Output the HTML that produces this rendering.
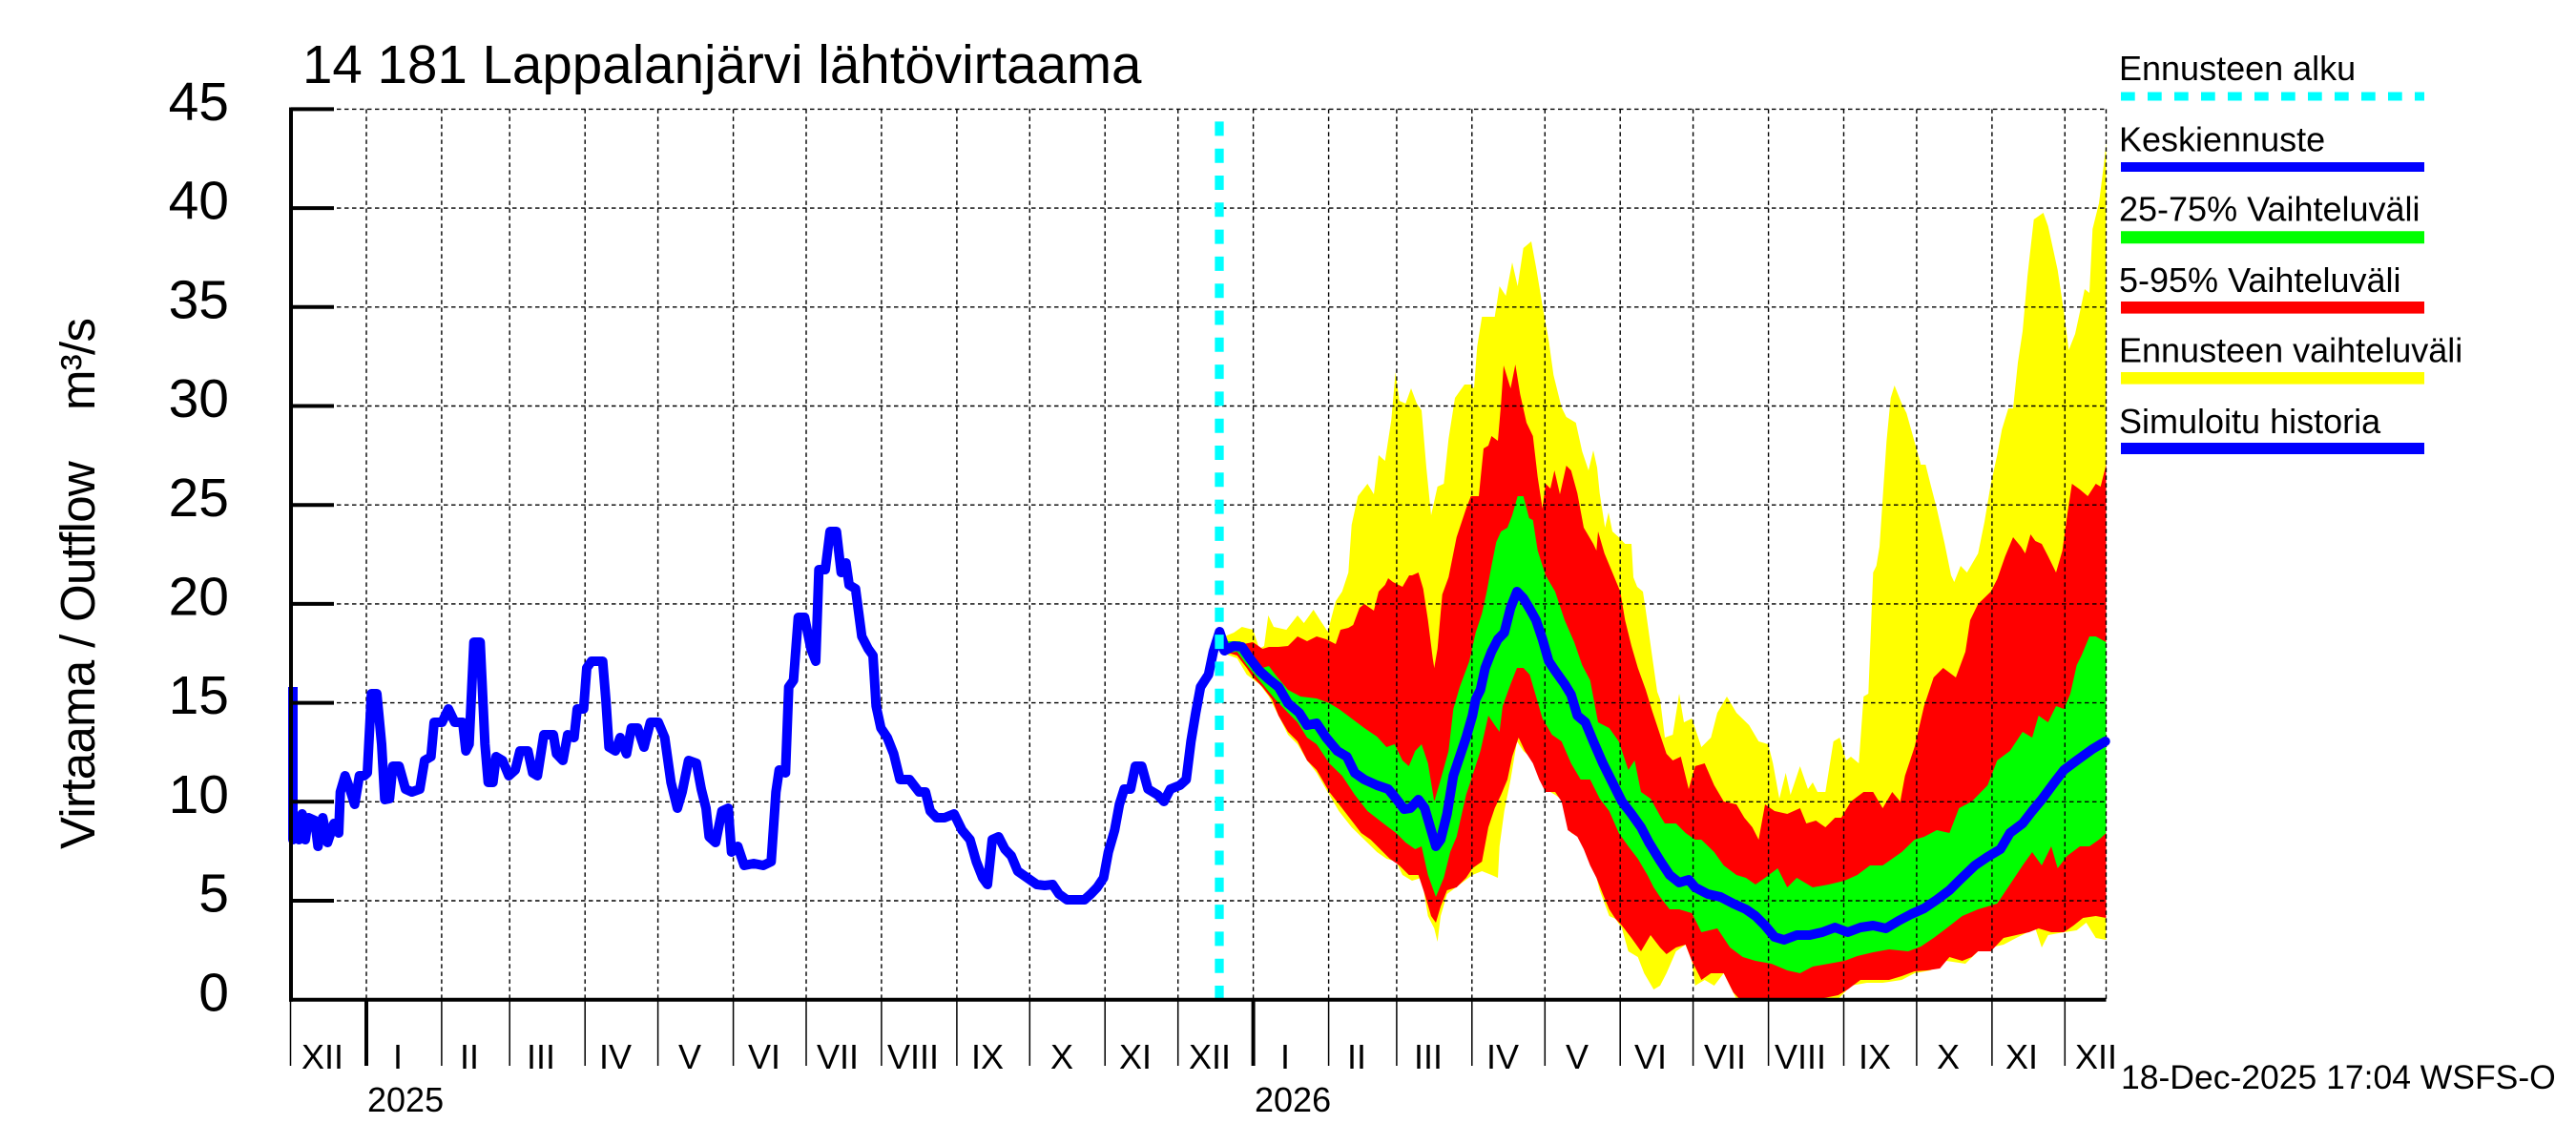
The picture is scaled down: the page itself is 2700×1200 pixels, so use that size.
<!DOCTYPE html>
<html><head><meta charset="utf-8"><style>
html,body{margin:0;padding:0;background:#fff;}
svg{display:block;}
text{font-family:"Liberation Sans",Arial,sans-serif;fill:#000;}
</style></head><body>
<svg width="2700" height="1200" viewBox="0 0 2700 1200" xmlns="http://www.w3.org/2000/svg">
<rect width="2700" height="1200" fill="#fff"/>

<!-- Yellow: forecast range -->
<polygon fill="#ffff00" points="1278,676 1283.3,667 1293.3,663 1301.7,657 1313.3,660 1320,680 1325,677 1329.3,645 1335,657 1348.3,660 1360,645 1366.7,653 1376.7,639 1385,652 1391.7,662 1400,630 1406.7,620 1413.3,600 1416.7,550 1423.3,520 1433.3,507 1440,518 1445,477 1451.7,483 1458.3,440 1462.7,390 1466.7,420 1473.3,423 1479,407 1485,423 1490,430 1495,490 1500,540 1506.7,510 1513.3,507 1518.3,460 1525,417 1535,403 1541.7,403 1545,407 1548.3,363 1553.3,332 1566.7,332 1571.7,300 1578.3,310 1585,275 1590.7,300 1596.7,260 1605,253 1610,280 1616.7,320 1623.3,357 1628.3,393 1636.7,427 1641.7,437 1651.7,443 1658.3,473 1665,493 1670,472 1674,490 1676.7,517 1682.3,553 1686,537 1690,557 1696.7,563 1703.3,570 1710,570 1712,605 1716,615 1722,620 1725,640 1732,690 1737,725 1740,733 1745,773 1753.3,770 1760,727 1765,757 1773.3,753 1783.3,783 1793.3,773 1800,747 1810,730 1820,747 1833.3,760 1843.3,777 1853.3,780 1858.3,800 1865,837 1871.7,810 1876.7,833 1886.7,803 1895,827 1900,820 1905,830 1913.3,830 1921.7,777 1928.3,773 1935,797 1940,793 1948.3,800 1953.3,730 1958.3,727 1963.3,600 1966.7,593 1970,573 1973.3,523 1977.3,463 1981.7,417 1985.7,404 1993.3,423 1998.3,433 2006.7,463 2013.3,487 2018.3,487 2023.3,507 2030,533 2038.3,570 2045,603 2048.3,610 2055,593 2061.7,600 2073.3,580 2080,547 2086.7,507 2093.3,477 2098.3,450 2105,428 2110,428 2115,380 2120,347 2125,290 2131.7,230 2141.7,223 2146.7,237 2156.7,283 2163.3,327 2168.3,367 2175,350 2180,327 2185,303 2190,307 2193.3,240 2200,213 2205,173 2207.5,150
2207.5,985 2196.7,983 2186.7,967 2176.7,975 2163.3,977 2146.7,980 2140,993 2133.3,973 2113.3,983 2100,990 2086.7,993 2073.3,997 2060,1010 2040,1007 2023.3,1017 2006.7,1020 1993.3,1027 1973.3,1030 1956.7,1030 1940,1033 1926.7,1047 1820,1047 1806.7,1020 1796.7,1033 1786.7,1027 1776.7,1033 1773.3,1007 1766.7,990 1756.7,997 1746.7,1020 1740,1033 1733.3,1037 1723.3,1020 1716.7,1003 1706.7,997 1700,973 1693.3,963 1686.7,960 1676.7,933 1666.7,893 1656.7,877 1646.7,873 1640,840 1630,833 1620,827 1613.3,813 1603.3,793 1596.7,787 1590,777 1583.3,817 1576.7,850 1571.7,887 1570,920 1563.3,917 1553.3,913 1543.3,917 1530,927 1516.7,937 1510,960 1506.7,987 1503.3,973 1496.7,960 1490,920 1480,923 1470,917 1463.3,903 1453.3,900 1443.3,893 1430,880 1416.7,867 1403.3,850 1393.3,833 1380,810 1370,797 1360,780 1350,770 1340,750 1330,730 1320,717 1306.7,707 1296.7,690 1283.3,685"/>

<!-- Red: 5-95% -->
<polygon fill="#ff0000" points="1278,676 1283.3,672 1293.3,672 1303.3,675 1313.3,673 1323.3,680 1330,678 1340,678 1350,677 1360,667 1370,672 1380,667 1390,670 1400,675 1405,660 1413.3,658 1418.3,655 1425,637 1430,633 1440,640 1445,620 1451.7,613 1455,606 1460,610 1470,615 1477,603 1480,603 1486.7,600 1491.7,617 1496.7,650 1501.7,690 1503.3,700 1506.7,680 1511.7,623 1518.3,605 1526.7,563 1536.7,533 1541.7,520 1550,520 1555,470 1560,467 1563.3,457 1570,462 1573.3,423 1576,383 1583.3,407 1588.3,382 1593.3,413 1600,443 1606.7,457 1611.7,500 1616.7,533 1620,507 1625,512 1629.3,493 1635,518 1641.7,488 1646.7,493 1653.3,517 1660,553 1670,570 1673.3,577 1675,557 1681.7,580 1690,600 1698.3,620 1703.3,650 1710,677 1716.7,700 1725,723 1731.7,745 1740,770 1746.7,790 1753.3,797 1761.7,793 1770,827 1776.7,803 1786.7,800 1796.7,823 1806.7,840 1820,843 1828.3,857 1836.7,867 1843.3,880 1850,843 1860,850 1873.3,853 1886.7,847 1893.3,863 1903.3,860 1913.3,867 1923.3,857 1930,857 1940,840 1953.3,830 1963.3,830 1973.3,847 1983.3,830 1991.7,840 1996.7,813 2006.7,783 2016.7,740 2026.7,710 2036.7,700 2050,710 2060,683 2065,650 2073.3,633 2086.7,620 2093.3,607 2101.7,583 2110,563 2118.3,573 2122.7,580 2128.3,560 2133.3,567 2140,570 2146.7,583 2155,600 2161.7,577 2166.7,540 2171.7,507 2180,513 2188.3,520 2196.7,507 2201.7,510 2205,497 2207.5,487
2207.5,962 2196.7,960 2183.3,962 2173.3,970 2163.3,977 2150,977 2136.7,973 2126.7,977 2113.3,980 2100,983 2086.7,997 2073.3,997 2066.7,1003 2056.7,1007 2043.3,1003 2033.3,1015 2020,1017 2006.7,1018 1993.3,1023 1980,1027 1966.7,1027 1950,1027 1936.7,1037 1926.7,1043 1906.7,1047 1823.3,1047 1816.7,1040 1806.7,1020 1793.3,1020 1783.3,1027 1773.3,1007 1766.7,990 1756.7,993 1746.7,1000 1740,993 1730,980 1720,997 1710,983 1700,970 1693.3,963 1686.7,953 1680,937 1673.3,920 1666.7,907 1660,890 1653.3,877 1643.3,870 1636.7,840 1630,830 1620,830 1613.3,817 1606.7,800 1598.3,787 1591.7,773 1585,793 1580,817 1573.3,833 1566.7,847 1560,867 1553.3,903 1543.3,910 1536.7,920 1526.7,930 1516.7,933 1510,950 1505,967 1500,960 1493.3,937 1486.7,917 1476.7,917 1466.7,907 1456.7,900 1446.7,890 1436.7,880 1426.7,873 1416.7,860 1406.7,847 1393.3,830 1380,807 1370,797 1360,777 1350,767 1340,750 1333.3,733 1323.3,720 1313.3,710 1306.7,700 1296.7,687 1283.3,683"/>

<!-- Green: 25-75% -->
<polygon fill="#00ff00" points="1278,676 1283.3,672 1300,672 1313.3,690 1323.3,700 1330,698 1336.7,707 1350,723 1363.3,730 1380,732 1393.3,737 1403.3,743 1416.7,753 1430,763 1443.3,772 1453.3,783 1461.7,780 1470,797 1476.7,803 1483.3,787 1490,780 1496.7,800 1503.3,840 1510,817 1518.3,787 1523.3,743 1530,720 1540,693 1546.7,663 1553.3,643 1558.3,620 1563.3,593 1568.3,568 1573.3,557 1580,553 1585,540 1590.7,520 1596.7,520 1602.7,543 1606.7,545 1611.7,577 1620,603 1630,620 1640,650 1650,673 1658.3,697 1666.7,713 1675,757 1686.7,763 1696.7,777 1706.7,807 1713.3,797 1720,830 1730,837 1740,855 1745,863 1756.7,863 1766.7,873 1776.7,880 1783.3,880 1796.7,893 1806.7,907 1820,917 1830,920 1840,927 1850,920 1863.3,910 1873.3,930 1883.3,920 1900,930 1916.7,927 1933.3,923 1946.7,917 1960,907 1973.3,907 1983.3,900 1993.3,893 2006.7,880 2016.7,877 2030,870 2043.3,873 2053.3,847 2066.7,840 2083.3,823 2093.3,797 2106.7,787 2120,767 2130,773 2136.7,750 2146.7,757 2155,740 2163.3,743 2170,727 2176.7,697 2181.7,687 2190,667 2196.7,667 2207.5,673
2207.5,873 2200,880 2190,887 2180,887 2166.7,897 2156.7,910 2150,887 2140,907 2130,893 2120,907 2106.7,927 2093.3,947 2073.3,953 2056.7,960 2040,973 2026.7,983 2013.3,992 2000,997 1980,995 1963.3,998 1946.7,1002 1933.3,1007 1916.7,1010 1900,1013 1886.7,1020 1873.3,1017 1856.7,1010 1840,1007 1826.7,1003 1813.3,993 1800,973 1783.3,977 1773.3,957 1760,953 1750,953 1740,940 1733.3,930 1726.7,917 1716.7,900 1706.7,887 1696.7,873 1686.7,850 1676.7,837 1666.7,817 1656.7,817 1646.7,800 1636.7,777 1626.7,770 1616.7,753 1610,730 1603.3,707 1596.7,700 1590,700 1583.3,717 1575,740 1571.7,767 1566.7,760 1560,750 1551.7,787 1543.3,813 1536.7,833 1526.7,877 1520,893 1513.3,920 1505,940 1496.7,917 1490,887 1483.3,890 1473.3,883 1463.3,873 1450,863 1433.3,850 1420,833 1406.7,813 1393.3,800 1380,780 1370,773 1360,757 1350,747 1336.7,733 1320,713 1306.7,697 1296.7,683 1283.3,685"/>

<!-- Grid -->
<g stroke="#000" stroke-width="1.4" stroke-dasharray="4.5 3.5" fill="none">
<path d="M305 944H2207.5M305 840.3H2207.5M305 736.6H2207.5M305 632.9H2207.5M305 529.2H2207.5M305 425.5H2207.5M305 321.8H2207.5M305 218.1H2207.5M305 114.4H2207.5"/>
<path d="M384 114.4V1047M462.9 114.4V1047M534.2 114.4V1047M613.2 114.4V1047M689.6 114.4V1047M768.6 114.4V1047M845 114.4V1047M923.9 114.4V1047M1002.9 114.4V1047M1079.3 114.4V1047M1158.2 114.4V1047M1234.7 114.4V1047M1313.6 114.4V1047M1392.6 114.4V1047M1463.9 114.4V1047M1542.8 114.4V1047M1619.3 114.4V1047M1698.2 114.4V1047M1774.6 114.4V1047M1853.6 114.4V1047M1932.5 114.4V1047M2008.9 114.4V1047M2087.9 114.4V1047M2164.3 114.4V1047M2207.5 114.4V1047"/>
</g>

<!-- Median forecast -->
<polyline fill="none" stroke="#0000ff" stroke-width="10" stroke-linejoin="round" stroke-linecap="round" points="1278,670 1283.3,682 1293.3,677 1301.7,678 1310,690 1320,703 1330,712 1340,720 1350,737 1361.7,747 1370,760 1380,758 1390,773 1401.7,787 1411.7,793 1420,810 1430,817 1443.3,823 1455,827 1463.3,837 1471.7,848 1478.3,847 1486.7,838 1493.3,847 1500,870 1505,887 1510,880 1516.7,853 1523.3,813 1530,793 1536.7,773 1543.3,750 1546.7,733 1551.7,723 1556.7,700 1563.3,683 1570,670 1576.7,663 1583.3,637 1590,620 1596.7,627 1603.3,638 1610,650 1616.7,670 1623.3,693 1630,703 1640,717 1646.7,728 1653.3,750 1661.7,757 1670,777 1680,800 1690,820 1700,840 1710,853 1720,867 1728.3,883 1740,902 1750,917 1760,925 1770,922 1776.7,930 1790,937 1803.3,940 1816.7,947 1830,953 1840,960 1850,970 1860,982 1870,985 1883.3,980 1896.7,980 1910,977 1923.3,972 1936.7,977 1950,972 1963.3,970 1976.7,973 1990,965 2003.3,958 2016.7,952 2030,943 2043.3,933 2053.3,923 2070,907 2083.3,898 2096.7,890 2106.7,873 2120,863 2130,850 2140,838 2153.3,820 2163.3,807 2176.7,797 2193.3,785 2206.7,777"/>

<!-- Simulated history -->
<polyline fill="none" stroke="#0000ff" stroke-width="10" stroke-linejoin="round" points="307,720 307,880 310,863 313.3,880 316.7,853 320,880 323.3,857 330,860 333.3,887 338.3,857 343.3,883 350,863 355,873 356.7,830 361.7,813 366.7,827 371.7,843 376.7,813 381.7,813 385,810 389.3,727 395,727 400,780 403.3,838 408.3,837 411.7,803 418.3,803 425,827 431.7,830 440,827 445,797 451.7,793 455,757 463.3,757 470,743 476.7,757 485,757 488.3,787 491.7,780 496.7,673 503.3,673 508.3,780 511.7,820 516.7,820 520,793 526.7,797 533.3,813 540,807 545,787 553.3,787 558.3,810 563.3,813 570,770 580,770 583.3,790 590,797 595,770 601.7,773 605,743 611.7,743 615,700 620,693 631.7,693 635,733 638.3,783 645,787 650,773 656.7,790 661.7,763 668.3,763 675,783 681.7,757 690,757 696.7,773 703.3,820 710,847 715,830 721.7,797 730,800 735,827 740,847 743.3,877 750,883 756.7,850 763.3,847 766.7,893 773.3,887 780,907 790,905 800,907 808.3,903 813.3,830 816.7,807 823.3,810 826.7,720 831.7,713 836.7,647 843.3,647 850,680 855,693 858.3,597 865,597 870,557 876.7,557 881.7,600 886.7,590 890,613 896.7,617 903.3,667 910,680 915,687 918.3,740 923.3,763 930,773 936.7,790 943.3,817 953.3,817 963.3,830 970,830 975,850 981.7,857 990,857 1000,853 1008.3,870 1016.7,880 1023.3,903 1030,920 1035,927 1040,880 1046.7,877 1053.3,890 1060,897 1066.7,913 1076.7,920 1086.7,927 1095,928 1103.3,927 1110,937 1118.3,943 1126.7,943 1136.7,943 1143.3,937 1150,930 1156.7,920 1161.7,893 1168.3,870 1173.3,843 1178.3,827 1185,827 1190,803 1196.7,803 1203.3,827 1213.3,833 1220,840 1226.7,827 1236.7,823 1243.3,817 1248.3,777 1253.3,747 1258.3,720 1266.7,707 1271.7,683 1278.3,662 1283.3,677"/>

<!-- Forecast start -->
<line x1="1278" y1="127.4" x2="1278" y2="1047" stroke="#00ffff" stroke-width="9.3" stroke-dasharray="15 13.3"/>

<!-- Axes -->
<g stroke="#000">
<line x1="305" y1="112.5" x2="305" y2="1049.7" stroke-width="4"/>
<line x1="303" y1="1047.7" x2="2207.5" y2="1047.7" stroke-width="4"/>
<path stroke-width="4" d="M305 944H350M305 840.3H350M305 736.6H350M305 632.9H350M305 529.2H350M305 425.5H350M305 321.8H350M305 218.1H350M305 114.4H350"/>
<path stroke-width="1.5" d="M304.5 1049V1117M462.9 1049V1117M534.2 1049V1117M613.2 1049V1117M689.6 1049V1117M768.6 1049V1117M845 1049V1117M923.9 1049V1117M1002.9 1049V1117M1079.3 1049V1117M1158.2 1049V1117M1234.7 1049V1117M1392.6 1049V1117M1463.9 1049V1117M1542.8 1049V1117M1619.3 1049V1117M1698.2 1049V1117M1774.6 1049V1117M1853.6 1049V1117M1932.5 1049V1117M2008.9 1049V1117M2087.9 1049V1117M2164.3 1049V1117"/>
<path stroke-width="4" d="M384 1049V1117M1313.6 1049V1117"/>
</g>

<!-- Y tick labels -->
<g font-size="57" text-anchor="end">
<text x="240" y="1059.3">0</text>
<text x="240" y="955.6">5</text>
<text x="240" y="851.9">10</text>
<text x="240" y="748.2">15</text>
<text x="240" y="644.5">20</text>
<text x="240" y="540.8">25</text>
<text x="240" y="437.1">30</text>
<text x="240" y="333.4">35</text>
<text x="240" y="229.7">40</text>
<text x="240" y="126">45</text>
</g>

<!-- Y axis label -->
<text transform="translate(99,890) rotate(-90)" font-size="51" xml:space="preserve" textLength="557" lengthAdjust="spacing">Virtaama / Outflow    m³/s</text>

<!-- Title -->
<text x="317" y="87" font-size="56.5">14 181 Lappalanjärvi lähtövirtaama</text>

<!-- Month labels -->
<g font-size="36" text-anchor="middle">
<text x="338" y="1120">XII</text>
<text x="417" y="1120">I</text>
<text x="492" y="1120">II</text>
<text x="567" y="1120">III</text>
<text x="645" y="1120">IV</text>
<text x="723" y="1120">V</text>
<text x="801" y="1120">VI</text>
<text x="878" y="1120">VII</text>
<text x="957" y="1120">VIII</text>
<text x="1035" y="1120">IX</text>
<text x="1113" y="1120">X</text>
<text x="1190" y="1120">XI</text>
<text x="1268" y="1120">XII</text>
<text x="1347" y="1120">I</text>
<text x="1422" y="1120">II</text>
<text x="1497" y="1120">III</text>
<text x="1575" y="1120">IV</text>
<text x="1653" y="1120">V</text>
<text x="1730" y="1120">VI</text>
<text x="1808" y="1120">VII</text>
<text x="1887" y="1120">VIII</text>
<text x="1965" y="1120">IX</text>
<text x="2042" y="1120">X</text>
<text x="2119" y="1120">XI</text>
<text x="2197" y="1120">XII</text>
</g>
<g font-size="36">
<text x="385" y="1165">2025</text>
<text x="1315" y="1165">2026</text>
<text x="2223" y="1141" font-size="35.5">18-Dec-2025 17:04 WSFS-O</text>
</g>

<!-- Legend -->
<g font-size="36">
<text x="2221" y="84">Ennusteen alku</text>
<text x="2221" y="158.5">Keskiennuste</text>
<text x="2221" y="231.5">25-75% Vaihteluväli</text>
<text x="2221" y="306">5-95% Vaihteluväli</text>
<text x="2221" y="379.5">Ennusteen vaihteluväli</text>
<text x="2221" y="454">Simuloitu historia</text>
</g>
<line x1="2223" y1="101" x2="2541" y2="101" stroke="#00ffff" stroke-width="9" stroke-dasharray="14.7 13.3"/>
<line x1="2223" y1="175" x2="2541" y2="175" stroke="#0000ff" stroke-width="10"/>
<line x1="2223" y1="248.7" x2="2541" y2="248.7" stroke="#00ff00" stroke-width="13"/>
<line x1="2223" y1="322.3" x2="2541" y2="322.3" stroke="#ff0000" stroke-width="12.6"/>
<line x1="2223" y1="396.3" x2="2541" y2="396.3" stroke="#ffff00" stroke-width="12.6"/>
<line x1="2223" y1="470" x2="2541" y2="470" stroke="#0000ff" stroke-width="12"/>
</svg>
</body></html>
